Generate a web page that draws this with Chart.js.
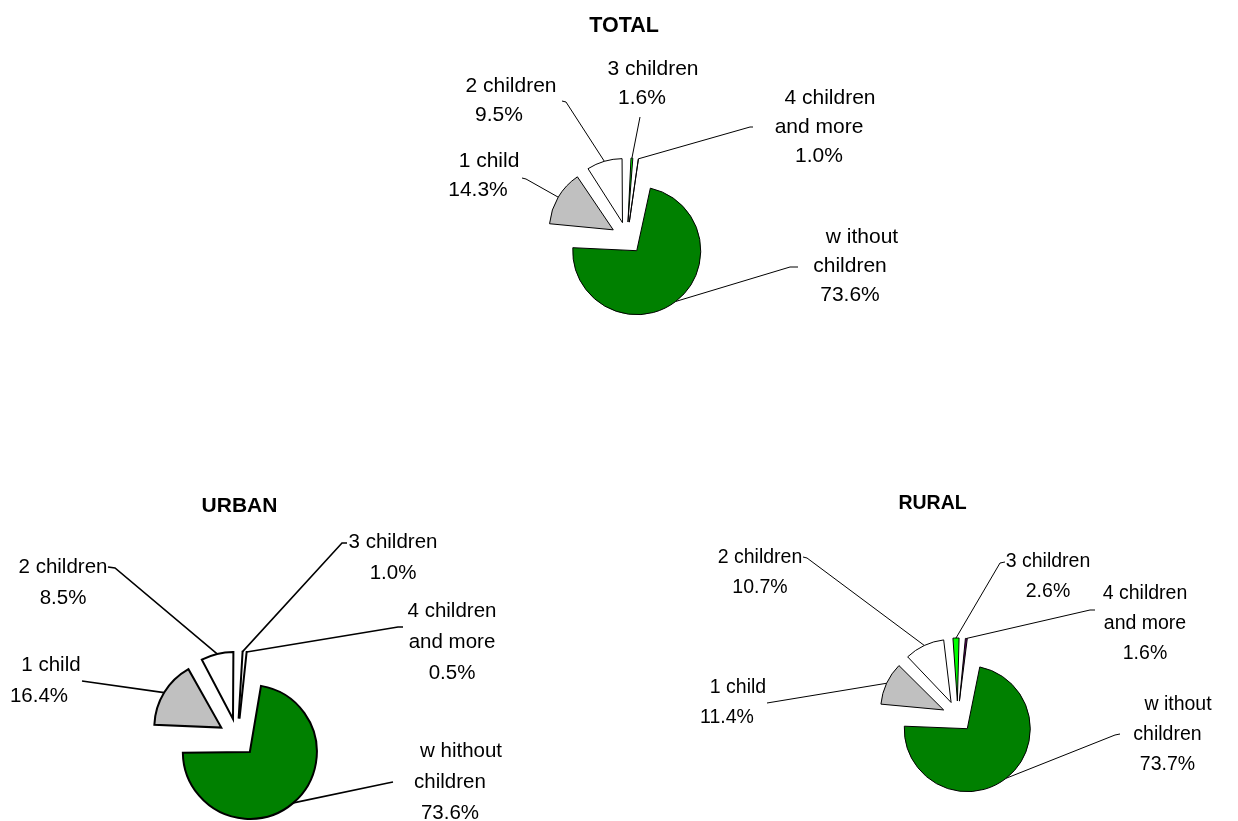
<!DOCTYPE html>
<html>
<head>
<meta charset="utf-8">
<title>Households by number of children</title>
<script src="https://cdn.jsdelivr.net/npm/chart.js@4.4.1/dist/chart.umd.min.js"></script>
<style>
    body { margin: 0; background: #ffffff; }
    #wrap { position: relative; width: 1238px; height: 821px; overflow: hidden; }
    #wrap canvas { position: absolute; left: 0; top: 0; }
</style>
</head>
<body>
<div id="wrap">
    <canvas id="totalChart" width="1238" height="821"></canvas>
    <canvas id="urbanChart" width="1238" height="821"></canvas>
    <canvas id="ruralChart" width="1238" height="821"></canvas>
</div>
<script>

/* =======================
   DATA
======================= */

const categories = ["without children", "1 child", "2 children", "3 children", "4 children and more"];

const totalValues = [73.6, 14.3, 9.5, 1.6, 1.0];
const urbanValues = [73.6, 16.4, 8.5, 1.0, 0.5];
const ruralValues = [73.7, 11.4, 10.7, 2.6, 1.6];

// label text as printed on the chart (line breaks kept)
const totalNames = [["w ithout", "children"], ["1 child"], ["2 children"], ["3 children"], ["4 children", "and more"]];
const urbanNames = [["w hithout", "children"], ["1 child"], ["2 children"], ["3 children"], ["4 children", "and more"]];
const ruralNames = [["w ithout", "children"], ["1 child"], ["2 children"], ["3 children"], ["4 children", "and more"]];

const sliceColors = ["#008000", "#c0c0c0", "#ffffff", "#00ff00", "#660066"];

/* =======================
   LAYOUT
======================= */

const totalLayout = {
    title: "TOTAL", titleX: 624, titleY: 32, titleSize: 21.5,
    cx: 627, cy: 238, radius: 64, explode: 16, rotation: 10,
    border: 1, leaderWidth: 1, fontSize: 21, lineHeight: 29,
    labels: [
        { x: 850, y: 243, shift: 12, from: [798, 267], elbow: [790, 267] },
        { x: 478, y: 167, shift: 11, from: [522, 178], elbow: [526, 179] },
        { x: 499, y: 92, shift: 12, from: [562, 101], elbow: [566, 102] },
        { x: 642, y: 75, shift: 11, from: [640, 117], elbow: null },
        { x: 819, y: 104, shift: 11, from: [753, 127], elbow: [750, 127] }
    ]
};

const urbanLayout = {
    title: "URBAN", titleX: 239.5, titleY: 512, titleSize: 21,
    cx: 237.5, cy: 737.5, radius: 67, explode: 19, rotation: 7,
    border: 2, leaderWidth: 1.6, fontSize: 20.5, lineHeight: 30.8,
    labels: [
        { x: 450, y: 757, shift: 11, from: [393, 782], elbow: [388, 783] },
        { x: 39, y: 671, shift: 12, from: [82, 681], elbow: null },
        { x: 63, y: 573, shift: 0, from: [108, 567], elbow: [115, 568] },
        { x: 393, y: 548, shift: 0, from: [347, 543], elbow: [342, 543] },
        { x: 452, y: 617, shift: 0, from: [403, 627], elbow: [398, 627] }
    ]
};

const ruralLayout = {
    title: "RURAL", titleX: 932.5, titleY: 509, titleSize: 19.5,
    cx: 957.7, cy: 716.5, radius: 63, explode: 15.5, rotation: 9.2,
    border: 1, leaderWidth: 1, fontSize: 19.5, lineHeight: 29.8,
    labels: [
        { x: 1167.5, y: 710, shift: 10.5, from: [1120, 734], elbow: [1115, 735] },
        { x: 727, y: 693, shift: 11, from: [767, 703], elbow: null },
        { x: 760, y: 563, shift: 0, from: [803, 557], elbow: [807, 558] },
        { x: 1048, y: 567, shift: 0, from: [1005, 562], elbow: [1000, 563] },
        { x: 1145, y: 599, shift: 0, from: [1095, 610], elbow: [1090, 610] }
    ]
};

const FONT = "'Liberation Sans', Arial, Helvetica, sans-serif";

/* =======================
   PLUGINS
======================= */

// chart.js grows exploded arcs by offset/4 * fix; undo that so every slice keeps the same radius
const evenRadius = {
    id: "evenRadius",
    beforeDatasetsDraw(chart) {
        const R = chart.data.datasets[0].radius;
        chart.getDatasetMeta(0).data.forEach(arc => {
            const off = (arc.options.offset || 0) / 4;
            const fix = 1 - Math.sin(Math.min(Math.PI, arc.circumference));
            arc.outerRadius = R - off * fix;
        });
    }
};

const pieLabels = {
    id: "pieLabels",
    afterDraw(chart) {
        const cfg = chart.options.plugins.pieLabels;
        const ds = chart.data.datasets[0];
        const R = ds.radius;
        const ctx = chart.ctx;

        ctx.save();
        ctx.fillStyle = "#000";
        ctx.textAlign = "center";
        ctx.textBaseline = "alphabetic";

        ctx.font = "bold " + cfg.titleSize + "px " + FONT;
        ctx.fillText(cfg.title, cfg.titleX, cfg.titleY);

        ctx.font = cfg.fontSize + "px " + FONT;

        chart.getDatasetMeta(0).data.forEach((arc, i) => {
            const lab = cfg.labels[i];
            const lines = cfg.names[i].concat([ds.data[i].toFixed(1) + "%"]);

            lines.forEach((t, k) => {
                const dx = k === 0 ? lab.shift : 0;
                ctx.fillText(t, lab.x + dx, lab.y + k * cfg.lineHeight);
            });

            // leader line to the middle of the slice rim
            const h = (arc.startAngle + arc.endAngle) / 2;
            const d = (arc.options.offset || 0) / 4 + R;
            const ex = arc.x + Math.cos(h) * d;
            const ey = arc.y + Math.sin(h) * d;

            ctx.beginPath();
            ctx.lineWidth = cfg.leaderWidth;
            ctx.strokeStyle = "#000";
            ctx.moveTo(lab.from[0], lab.from[1]);
            if (lab.elbow) ctx.lineTo(lab.elbow[0], lab.elbow[1]);
            ctx.lineTo(ex, ey);
            ctx.stroke();
        });

        ctx.restore();
    }
};

/* =======================
   CHARTS
======================= */

function makePie(canvasId, values, names, layout) {

    const canvas = document.getElementById(canvasId);
    const W = canvas.width;
    const H = canvas.height;

    // place the chart area so that its centre is the pie centre
    const padding = {
        left: Math.max(0, 2 * layout.cx - W),
        right: Math.max(0, W - 2 * layout.cx),
        top: Math.max(0, 2 * layout.cy - H),
        bottom: Math.max(0, H - 2 * layout.cy)
    };

    new Chart(canvas, {
        type: "pie",
        data: {
            labels: categories,
            datasets: [{
                data: values,
                backgroundColor: sliceColors,
                borderColor: "#000000",
                borderWidth: layout.border,
                borderJoinStyle: "miter",
                offset: layout.explode * 4,
                radius: layout.radius,
                clip: false
            }]
        },
        options: {
            responsive: false,
            animation: false,
            events: [],
            rotation: layout.rotation,
            layout: { padding },
            plugins: {
                legend: { display: false },
                tooltip: { enabled: false },
                title: { display: false },
                pieLabels: Object.assign({ names }, layout)
            }
        },
        plugins: [evenRadius, pieLabels]
    });
}

makePie("totalChart", totalValues, totalNames, totalLayout);
makePie("urbanChart", urbanValues, urbanNames, urbanLayout);
makePie("ruralChart", ruralValues, ruralNames, ruralLayout);

</script>
</body>
</html>
